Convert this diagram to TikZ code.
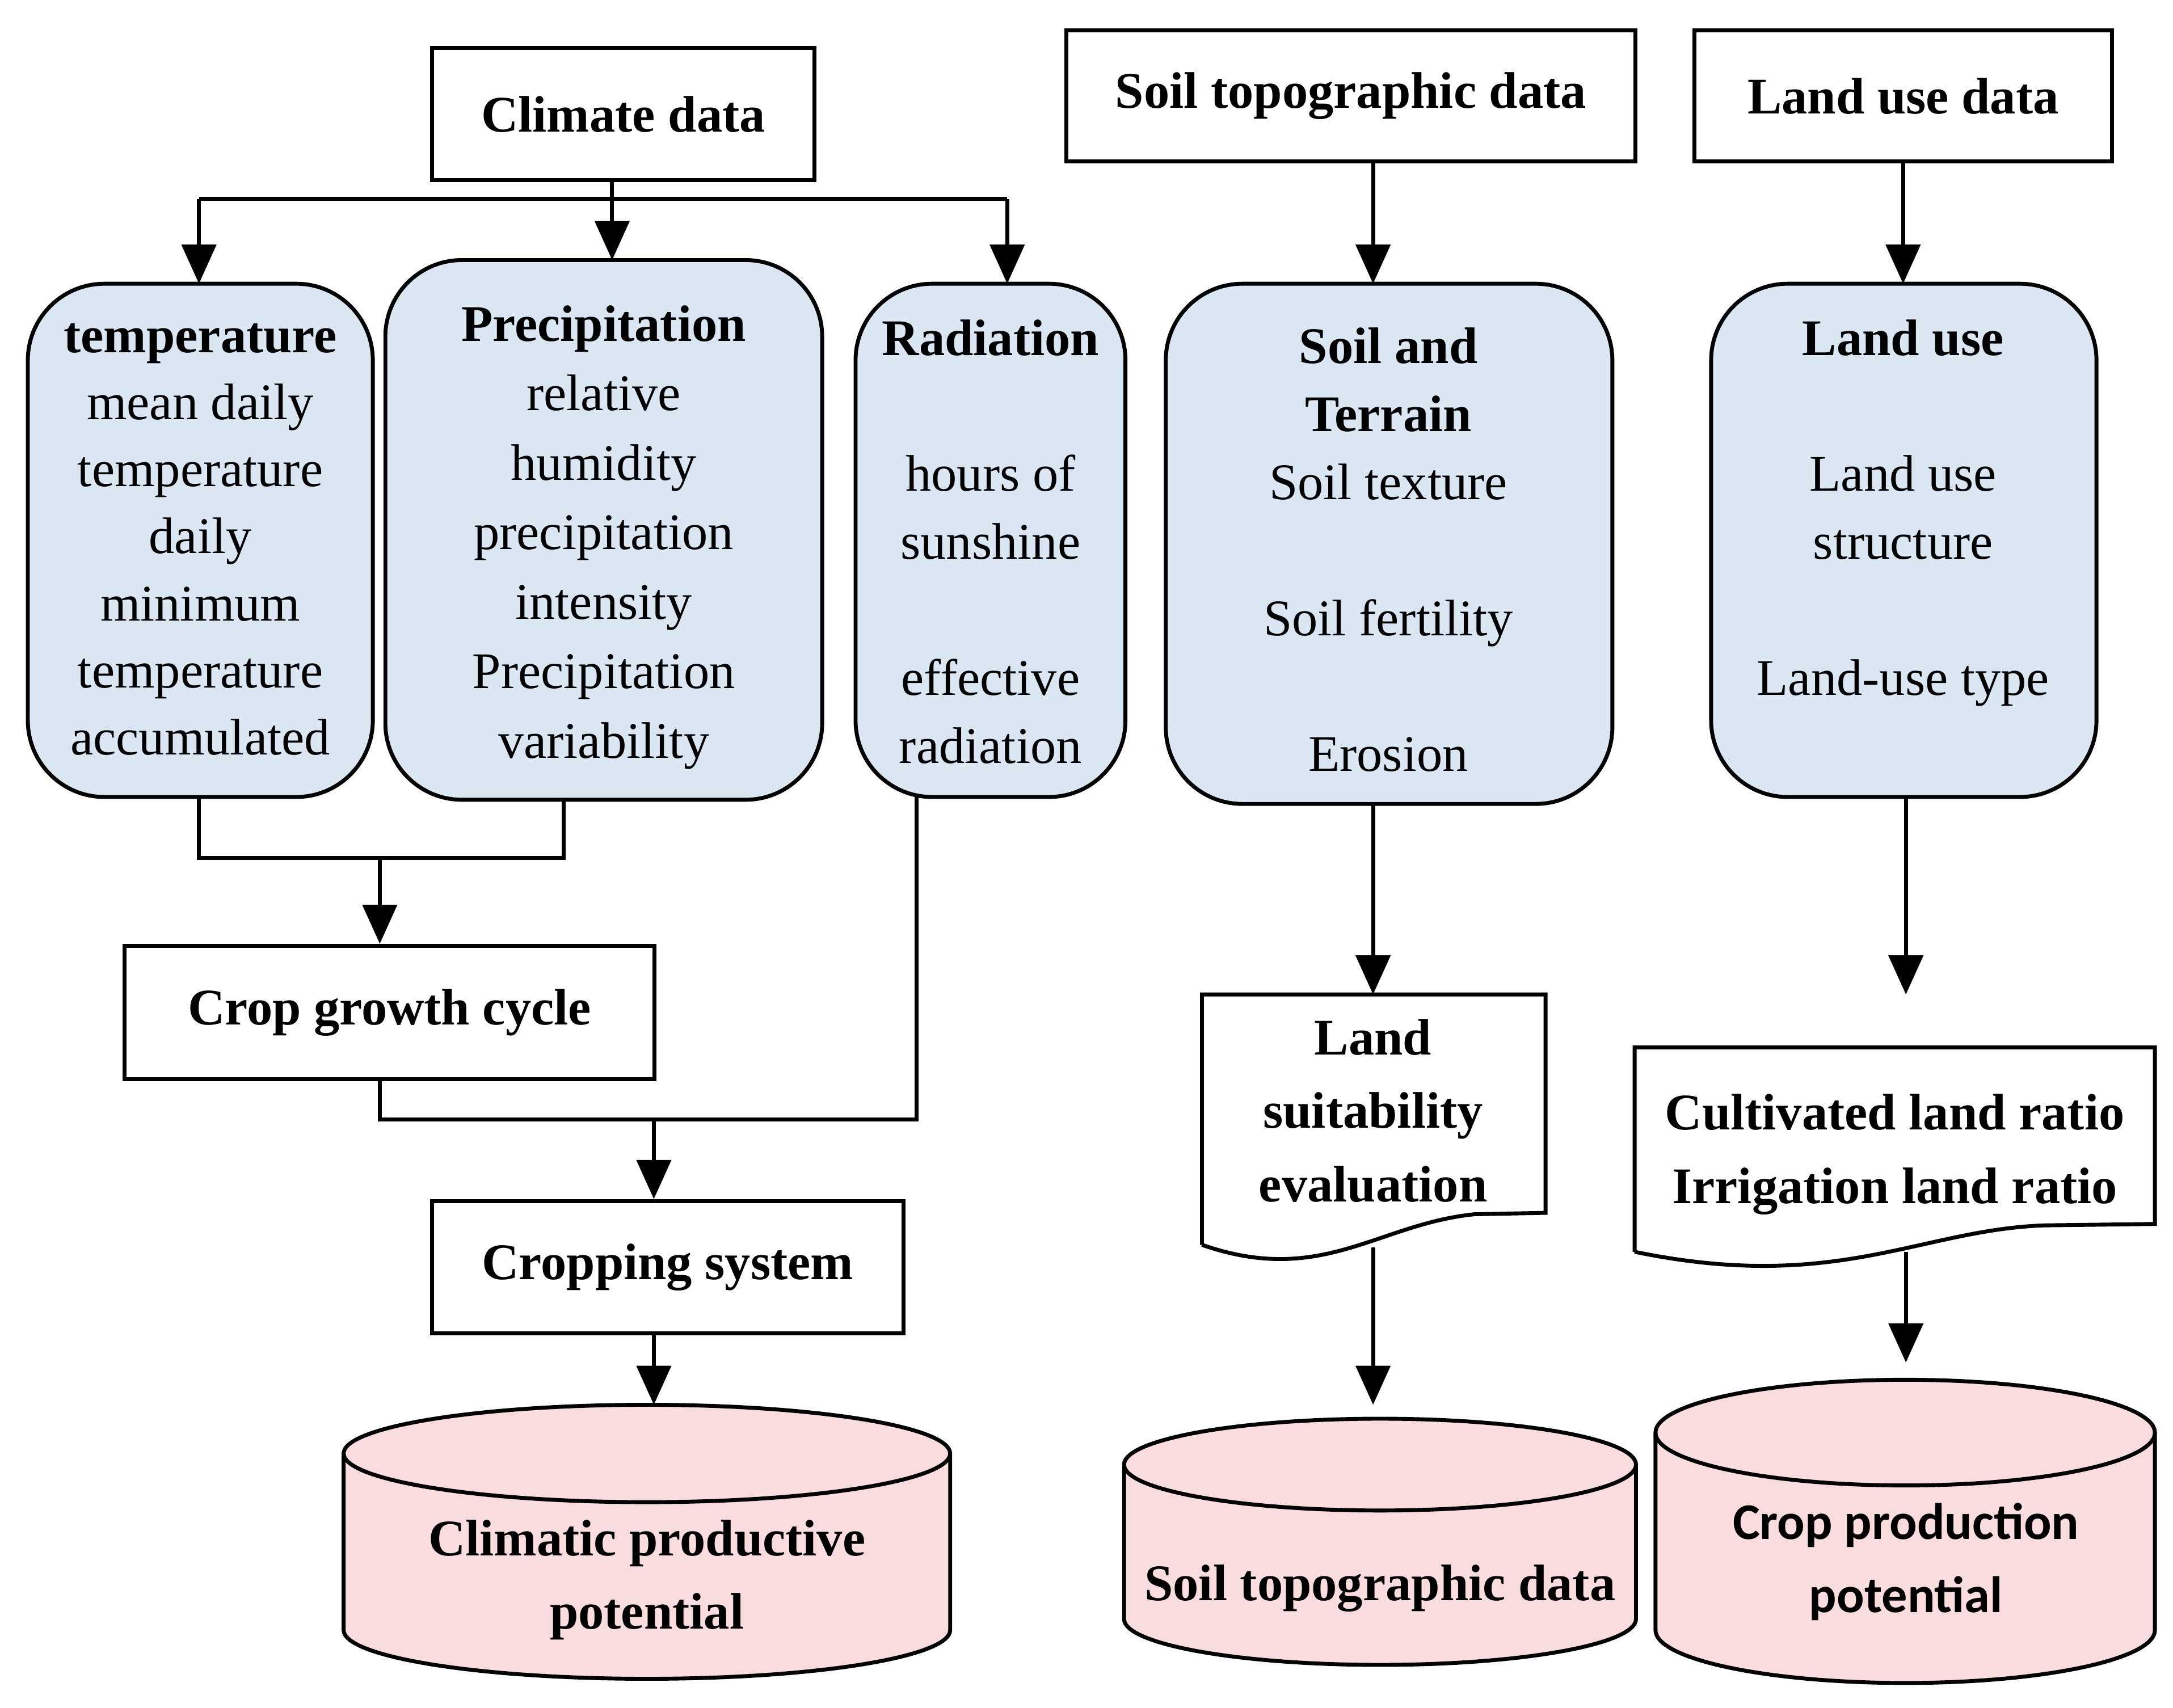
\documentclass[tikz,border=0pt]{standalone}
\usepackage{fontspec}
\setmainfont{Liberation Serif}
\newfontfamily\sansf{Carlito}
\usetikzlibrary{arrows.meta}
\begin{document}
\begin{tikzpicture}[x=0.01cm,y=-0.01cm,
  every node/.style={font=\fontsize{10}{14}\selectfont},
  box/.style={draw,thick,fill=white},
  rbox/.style={draw,thick,fill=boxblue,rounded corners=0.55cm},
  ar/.style={thick,-{Triangle[length=8pt,width=7pt]}},
  ln/.style={thick},
  txt/.style={align=center,anchor=north,inner sep=0pt}]
\definecolor{boxblue}{HTML}{DAE6F1}
\definecolor{cylpink}{HTML}{F9DCDD}
\useasboundingbox (0,0) rectangle (1562,1228);
% top rectangles
\node[box,minimum width=2.75cm,minimum height=0.95cm,font=\fontsize{10.5}{14}\selectfont\bfseries] (cd) at (448,82) {Climate data};
\node[box,minimum width=4.09cm,minimum height=0.94cm,font=\fontsize{10.5}{14}\selectfont\bfseries] (sd) at (971,69) {Soil topographic data};
\node[box,minimum width=3.00cm,minimum height=0.94cm,font=\fontsize{10.5}{14}\selectfont\bfseries] (ld) at (1368,69) {Land use data};
% rounded boxes
\draw[rbox] (20,204) rectangle (268,573); \node (tb) at (144,388) {};
\draw[rbox] (277,187) rectangle (591,575); \node (pb) at (434,381) {};
\draw[rbox] (615,204) rectangle (809,573); \node (rb) at (712,388) {};
\draw[rbox] (838,204) rectangle (1159,578); \node (sb) at (998,391) {};
\draw[rbox] (1230,204) rectangle (1507,573); \node (lb) at (1368,388) {};
\node[txt,font=\fontsize{10.5}{13.7}\selectfont] (tt) at (144,232) {\textbf{temperature}\\mean daily\\temperature\\daily\\minimum\\temperature\\accumulated};
\node[txt,font=\fontsize{10.5}{14.2}\selectfont] (pt) at (434,219) {\textbf{Precipitation}\\relative\\humidity\\precipitation\\intensity\\Precipitation\\variability};
\node[txt,font=\fontsize{10.5}{13.9}\selectfont] (rt) at (712,229) {\textbf{Radiation}\\ \\hours of\\sunshine\\ \\effective\\radiation};
\node[txt,font=\fontsize{10.5}{13.9}\selectfont] (st) at (998,235) {\textbf{Soil and}\\\textbf{Terrain}\\Soil texture\\ \\Soil fertility\\ \\Erosion};
\node[txt,font=\fontsize{10.5}{13.9}\selectfont] (lt) at (1368,229) {\textbf{Land use}\\ \\Land use\\structure\\ \\Land-use type};
% middle rectangles
\node[box,minimum width=3.81cm,minimum height=0.96cm,font=\fontsize{10.5}{14}\selectfont\bfseries] (cg) at (280,728) {Crop growth cycle};
\node[box,minimum width=3.39cm,minimum height=0.95cm,font=\fontsize{10.5}{14}\selectfont\bfseries] (cs) at (480,911) {Cropping system};
% documents
\draw[thick,fill=white] (864,895) -- (864,715) -- (1111,715) -- (1111,872) -- (1060,873) .. controls (990,880) and (950,925) .. (864,895);
\node[txt,font=\fontsize{10.5}{15}\selectfont\bfseries] (ls) at (987,732) {Land\\suitability\\evaluation};
\node (lsb) at (987,897) {};
\draw[thick,fill=white] (1175,900) -- (1175,753) -- (1549,753) -- (1549,880) -- (1470,881) .. controls (1380,884) and (1320,930) .. (1175,900);
\node[txt,font=\fontsize{10.5}{15}\selectfont\bfseries] (cl) at (1362,786) {Cultivated land ratio\\Irrigation land ratio};
\node (clb) at (1370,900) {};
% cylinders
\newcommand{\cyl}[5]{% x1 x2 ytop ybot ry
  \draw[thick,fill=cylpink] (#1,#3+#5) -- (#1,#4-#5) arc[start angle=180,end angle=0,x radius={(#2-#1)/2},y radius=#5] -- (#2,#3+#5) arc[start angle=0,end angle=-180,x radius={(#2-#1)/2},y radius=#5] -- cycle;
  \draw[thick] (#1,#3+#5) arc[start angle=180,end angle=0,x radius={(#2-#1)/2},y radius=#5];}
\cyl{247}{683}{1010}{1207}{35}
\cyl{808}{1176}{1020}{1197}{33}
\cyl{1190}{1549}{992}{1210}{38}
\node (c1) at (465,1010) {}; \node (c2) at (987,1012) {}; \node (c3) at (1370,992) {};
\node[txt,font=\fontsize{10.5}{15}\selectfont\bfseries] (c1t) at (465,1092) {Climatic productive\\potential};
\node[font=\fontsize{10.5}{14}\selectfont\bfseries] (c2t) at (992,1142) {Soil topographic data};
\node[txt,font=\fontsize{10.5}{15}\selectfont\sansf\bfseries] (c3t) at (1370,1080) {Crop production\\potential};
% connectors
\coordinate (j1) at (440,143);
\draw[ln] (cd.south -| j1) -- (j1);
\draw[ar] (143,143) -- (143,204);
\draw[ln] (143,143) -- (724,143);
\draw[ar] (440,143) -- (440,187);
\draw[ar] (724,143) -- (724,204);
\draw[ln] (143,573) -- (143,617) -- (405,617) -- (405,575);
\draw[ar] (273,617) -- (cg.north -| 273,0);
\draw[ln] (659,573) -- (659,805) -- (273,805) -- (273,776);
\draw[ar] (470,805) -- (cs.north -| 470,0);
\draw[ar] (cs.south -| 470,0) -- (470,1010);
\draw[ar] (sd.south -| 987,0) -- (987,204);
\draw[ar] (987,578) -- (987,715);
\draw[ar] (987,897) -- (987,1010);
\draw[ar] (ld.south) -- (1368,204);
\coordinate (lf) at (1370,715);
\draw[ar] (1370,573) -- (lf);
\draw[ar] (1370,900) -- (c3);
\end{tikzpicture}
\end{document}
